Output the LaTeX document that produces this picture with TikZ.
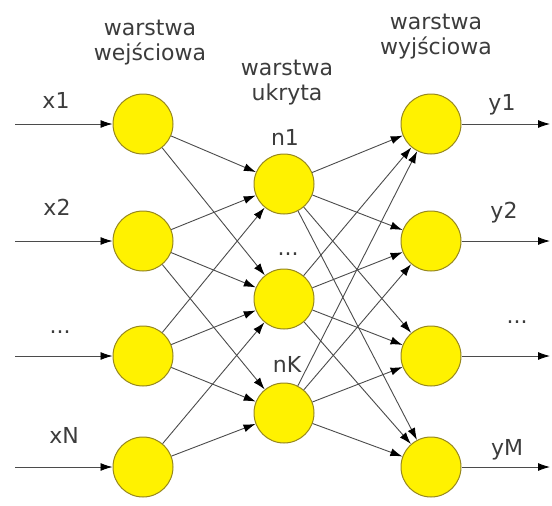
\documentclass[tikz,border=0pt]{standalone}
\usepackage{fontspec}
\usepackage{tikz}
\usetikzlibrary{arrows.meta}
\newfontfamily\nnfont{DejaVu Sans}
\definecolor{nfill}{RGB}{255,242,0}
\definecolor{nedge}{RGB}{150,135,30}
\definecolor{ntext}{RGB}{60,60,60}
\definecolor{nline}{RGB}{75,75,75}
\newcommand{\NF}[0]{nfill}
\newcommand{\NE}[0]{nedge}

\begin{document}
\begin{tikzpicture}[x=1pt, y=-1pt,
  neuron/.style={circle, draw=\NE, line width=1pt, fill=\NF,
    minimum size=60pt, inner sep=0pt},
  conn/.style={draw=nline, line width=0.9pt,
    -{Latex[length=12pt, width=8pt, color=black]}},
  lbl/.style={font=\nnfont\fontsize{22}{25}\selectfont, text=ntext,
    anchor=base, align=center, inner sep=0pt}]

  \useasboundingbox (0,0) rectangle (552,506);

  \newcommand\XI{143}
  \newcommand\XH{284}
  \newcommand\XO{431}

  %% input layer
  \node[neuron] (i1) at (\XI, 124) {};
  \node[neuron] (i2) at (\XI, 241) {};
  \node[neuron] (i3) at (\XI, 356) {};
  \node[neuron] (i4) at (\XI, 467) {};

  %% hidden layer
  \node[neuron] (h1) at (\XH, 184) {};
  \node[neuron] (h2) at (\XH, 299) {};
  \node[neuron] (h3) at (\XH, 413) {};

  %% output layer
  \node[neuron] (o1) at (\XO, 124) {};
  \node[neuron] (o2) at (\XO, 241) {};
  \node[neuron] (o3) at (\XO, 356) {};
  \node[neuron] (o4) at (\XO, 467) {};

  \coordinate (in1) at (15, 124);
  \coordinate (in2) at (15, 241);
  \coordinate (in3) at (15, 356);
  \coordinate (in4) at (15, 467);
  \coordinate (out1) at (550, 124);
  \coordinate (out2) at (550, 241);
  \coordinate (out3) at (550, 356);
  \coordinate (out4) at (550, 467);

  \draw[conn] (in1) -- (i1); %% x1
  \draw[conn] (in2) -- (i2); %% x2
  \draw[conn] (in3) -- (i3);
  \draw[conn] (in4) -- (i4); %% xN

  \draw[conn] (o1) -- (out1); %% y1
  \draw[conn] (o2) -- (out2); %% y2
  \draw[conn] (o3) -- (out3);
  \draw[conn] (o4) -- (out4); %% yM

  %% input -> hidden
  \draw[conn] (i1) -- (h1);
  \draw[conn] (i1) -- (h2);
  \draw[conn] (i2) -- (h1);
  \draw[conn] (i2) -- (h2);
  \draw[conn] (i2) -- (h3);
  \draw[conn] (i3) -- (h1);
  \draw[conn] (i3) -- (h2);
  \draw[conn] (i3) -- (h3);
  \draw[conn] (i4) -- (h2);
  \draw[conn] (i4) -- (h3);

  %% hidden -> output
  \draw[conn] (h1) -- (o1);
  \draw[conn] (h1) -- (o2);
  \draw[conn] (h1) -- (o3);
  \draw[conn] (h1) -- (o4);
  \draw[conn] (h2) -- (o1);
  \draw[conn] (h2) -- (o2);
  \draw[conn] (h2) -- (o3);
  \draw[conn] (h2) -- (o4);
  \draw[conn] (h3) -- (o1);
  \draw[conn] (h3) -- (o2);
  \draw[conn] (h3) -- (o3);
  \draw[conn] (h3) -- (o4);

  %% layer titles (base = last line)
  \node[lbl] (tin) at (150, 60) {warstwa\\wejściowa};
  \node[lbl] (thid) at (287, 100) {warstwa\\ukryta};
  \node[lbl] (tout) at (436, 54) {warstwa\\wyjściowa};

  %% signals
  \node[lbl] (lx1) at (56, 108) {x1};
  \node[lbl] (lx2) at (57, 215) {x2};
  \node[lbl] (lxd) at (60, 333) {...};
  \node[lbl] (lxn) at (64, 443) {xN};

  \node[lbl] (ly1) at (502, 110) {y1};
  \node[lbl] (ly2) at (504, 218) {y2};
  \node[lbl] (lyd) at (517, 323) {...};
  \node[lbl] (lym) at (507, 455) {yM};

  \node[lbl] (ln1) at (285, 145) {n1};
  \node[lbl] (lnd) at (288, 255) {...};
  \node[lbl] (lnk) at (287, 372) {nK};

\end{tikzpicture}
\end{document}
